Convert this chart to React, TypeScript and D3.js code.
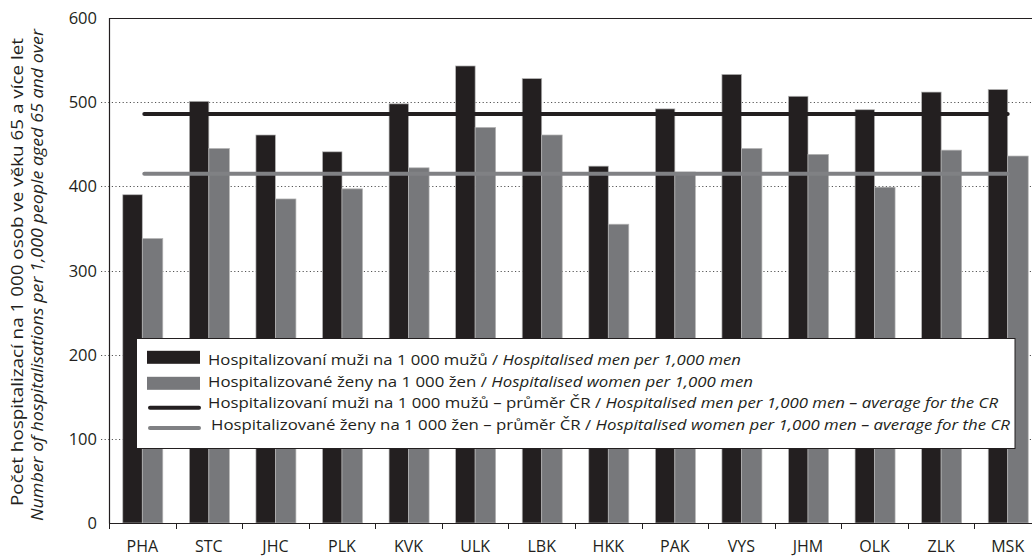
import * as d3 from "d3";

const regions = ["PHA", "STC", "JHC", "PLK", "KVK", "ULK", "LBK", "HKK", "PAK", "VYS", "JHM", "OLK", "ZLK", "MSK"];
const menRates = [390, 501, 461, 441, 498, 543, 528, 424, 492, 533, 507, 491, 512, 515];
const womenRates = [338, 445, 385, 397, 422, 470, 461, 355, 417, 445, 438, 399, 443, 436];
const menAverage = 486;
const womenAverage = 415;
const yTicks = [0, 100, 200, 300, 400, 500, 600];
const gridTicks = [100, 200, 300, 400, 500];

const legendRows = [
  { kind: "bar", color: "#231f20", cz: "Hospitalizovaní muži na 1 000 mužů / ", en: "Hospitalised men per 1,000 men" },
  { kind: "bar", color: "#77787b", cz: "Hospitalizované ženy na 1 000 žen / ", en: "Hospitalised women per 1,000 men" },
  { kind: "line", color: "#231f20", cz: "Hospitalizovaní muži na 1 000 mužů – průměr ČR  / ", en: "Hospitalised men per 1,000 men – average for the CR" },
  { kind: "line", color: "#808184", cz: "Hospitalizované ženy na 1 000 žen – průměr ČR  / ", en: "Hospitalised women per 1,000 men – average for the CR" },
];

const W = 1032;
const H = 557;
const FONT = "'Open Sans', 'Noto Sans', sans-serif";
const DARK = "#231f20";
const GREY = "#77787b";

export default function App() {
  const left = 109;
  const right = 1041;
  const top = 18;
  const bottom = 523;

  const x = d3.scaleBand<string>().domain(regions).range([left, right]).paddingInner(0).paddingOuter(0);
  const y = d3.scaleLinear().domain([0, 600]).range([bottom, top]);
  const bw = x.bandwidth();
  const center = (r: string) => (x(r) ?? 0) + bw / 2;

  const firstC = center(regions[0]);
  const lastC = center(regions[regions.length - 1]);

  // legend box + row layout (swatch centre, text baseline, text start, text length)
  const lg = { x: 136.5, y: 338.5, w: 878.5, h: 110 };
  const swatchY = [357.3, 383.3, 407.7, 427.9];
  const textY = [365, 387, 408, 430];
  const textX = [208, 208, 208, 211];
  const textLen = [533, 545, 790, 799];

  return (
    <div style={{ position: "absolute", left: 0, top: 0 }}>
      <svg width={W} height={H} style={{ display: "block", background: "#fff", whiteSpace: "pre" }} fontFamily={FONT}>
        {/* grid */}
        {gridTicks.map((t) => (
          <line
            key={"g" + t}
            x1={left - 8}
            x2={W}
            y1={Math.round(y(t)) + 0.5}
            y2={Math.round(y(t)) + 0.5}
            stroke="#555"
            strokeWidth={1}
            strokeDasharray="1.2,2.4"
          />
        ))}

        {/* bars */}
        {regions.map((r, i) => (
          <g key={r}>
            <rect
              x={center(r) - 19.5}
              y={y(menRates[i])}
              width={19.5}
              height={bottom - y(menRates[i])}
              fill={DARK}
              stroke="#b5b5b5"
              strokeWidth={0.7}
            />
            <rect
              x={center(r)}
              y={y(womenRates[i])}
              width={20.5}
              height={bottom - y(womenRates[i])}
              fill={GREY}
              stroke="#b5b5b5"
              strokeWidth={0.7}
            />
          </g>
        ))}

        {/* averages */}
        <line x1={firstC + 2} x2={lastC} y1={y(menAverage)} y2={y(menAverage)} stroke={DARK} strokeWidth={4} strokeLinecap="round" />
        <line x1={firstC + 2} x2={lastC} y1={y(womenAverage)} y2={y(womenAverage)} stroke="#808184" strokeWidth={4} strokeLinecap="round" />

        {/* axes */}
        <line x1={left + 0.5} x2={left + 0.5} y1={top} y2={bottom + 0.5} stroke={DARK} strokeWidth={1.2} />
        <line x1={left} x2={W} y1={top + 0.5} y2={top + 0.5} stroke={DARK} strokeWidth={1.2} />
        <line x1={left} x2={W} y1={bottom + 0.5} y2={bottom + 0.5} stroke={DARK} strokeWidth={1.2} />
        {regions.map((r) => (
          <line key={"t" + r} x1={Math.round(x(r) ?? 0) + 0.5} x2={Math.round(x(r) ?? 0) + 0.5} y1={bottom} y2={bottom + 6} stroke={DARK} strokeWidth={1} />
        ))}
        {regions.map((r) => (
          <text key={"l" + r} x={center(r)} y={552} textAnchor="middle" fontSize={16} fill={DARK}>
            {r}
          </text>
        ))}
        {yTicks.map((t) => (
          <text key={"y" + t} x={97} y={y(t) + 6} textAnchor="end" fontSize={16.5} fill={DARK}>
            {t}
          </text>
        ))}

        {/* y title */}
        <text
          transform={`translate(22.5,272) rotate(-90)`}
          textAnchor="middle"
          fontSize={16.5}
          fill={DARK}
          textLength={468}
          lengthAdjust="spacingAndGlyphs"
        >
          {"Počet hospitalizací  na  1 000 osob ve věku 65 a více let"}
        </text>
        <text
          transform={`translate(42.5,275) rotate(-90)`}
          textAnchor="middle"
          fontSize={16.5}
          fontStyle="italic"
          fill={DARK}
          textLength={492}
          lengthAdjust="spacingAndGlyphs"
        >
          Number of hospitalisations per 1,000 people aged 65 and over
        </text>

        {/* legend */}
        <rect x={lg.x} y={lg.y} width={lg.w} height={lg.h} fill="#fff" stroke={DARK} strokeWidth={1} />
        {legendRows.map((row, i) => (
          <g key={"lg" + i}>
            {row.kind === "bar" ? (
              <rect x={147} y={swatchY[i] - 6.5} width={53} height={13} fill={row.color} />
            ) : (
              <line x1={150} x2={199} y1={swatchY[i]} y2={swatchY[i]} stroke={row.color} strokeWidth={4} strokeLinecap="round" />
            )}
            <text
              x={textX[i]}
              y={textY[i]}
              fontSize={15}
              fill={DARK}
              textLength={textLen[i]}
              lengthAdjust="spacingAndGlyphs"
            >
              {row.cz}
              <tspan fontStyle="italic">{row.en}</tspan>
            </text>
          </g>
        ))}
      </svg>
    </div>
  );
}
